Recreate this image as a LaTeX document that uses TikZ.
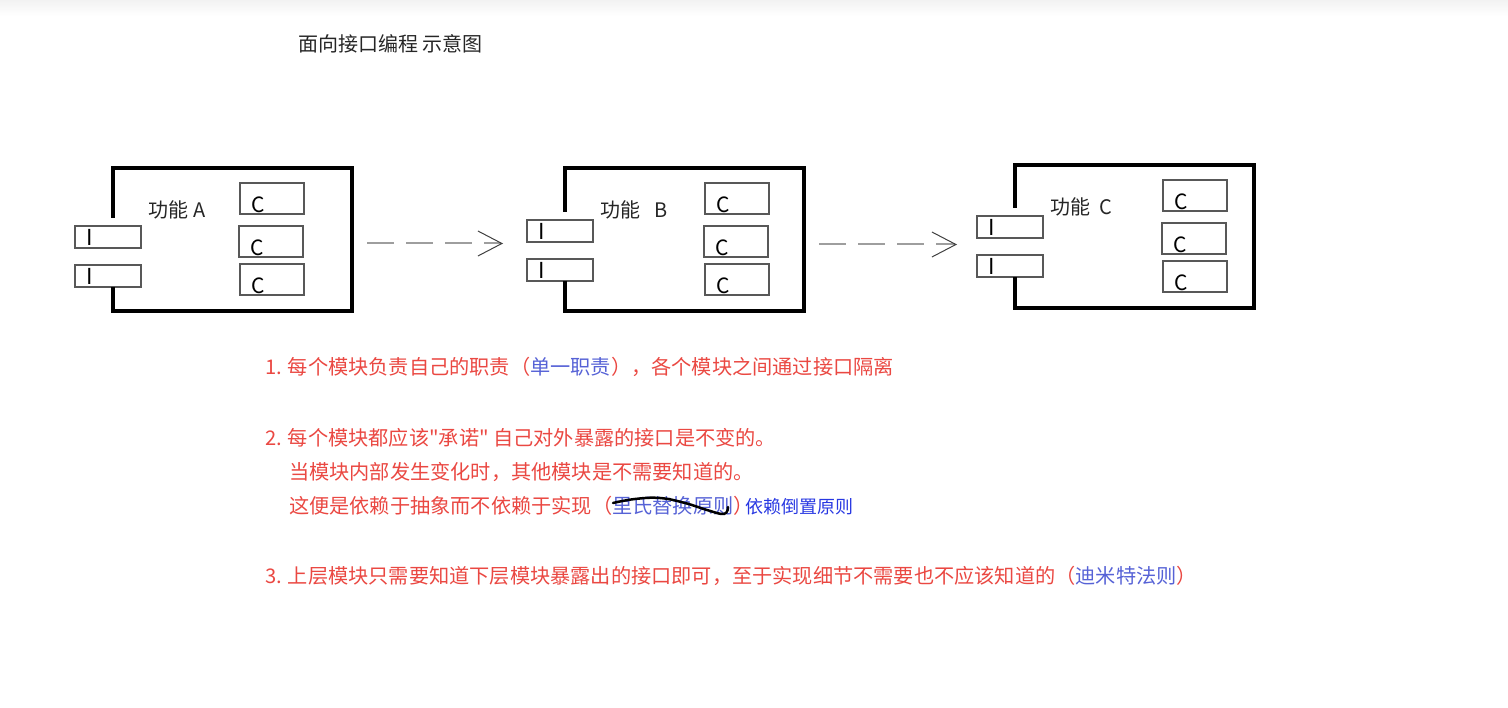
\documentclass[tikz,border=0pt]{standalone}
\usepackage{fontspec}
\setmainfont{Noto Sans CJK SC}[Ligatures=TeXOff]
\usetikzlibrary{positioning,arrows.meta,calc}
\definecolor{notered}{RGB}{234,72,66}
\definecolor{noteblue}{RGB}{86,98,214}
\definecolor{linkblue}{RGB}{40,56,226}
\definecolor{boxgray}{RGB}{88,88,88}

\begin{document}
\begin{tikzpicture}[
  x=1pt, y=-1pt,
  every node/.style={inner sep=0pt, outer sep=0pt},
  modbox/.style ={minimum width=239pt, minimum height=143pt, anchor=north west},
  modline/.style={line width=4pt, line join=miter},
  iface/.style  ={draw=boxgray, fill=white, line width=1.3pt, anchor=north west,
                  minimum width=66pt, minimum height=22pt,
                  label={[anchor=base west, xshift=11pt, yshift=2pt, font=\fontsize{22}{24}\selectfont]south west:I}},
  impl/.style   ={draw=boxgray, line width=1.3pt, anchor=north east,
                  minimum width=64pt, minimum height=31pt,
                  label={[anchor=base west, xshift=11pt, yshift=1pt, font=\fontsize{21}{23}\selectfont]south west:C}},
  modlabel/.style={anchor=west, font=\fontsize{20}{24}\selectfont, text=black!85},
  note/.style   ={anchor=west, font=\fontsize{20.2}{24}\selectfont, text=notered},
  dep/.style    ={draw=black!38, line width=2pt, dash pattern=on 27pt off 12pt,
                  -{Straight Barb[length=24pt, width=25pt, line width=1pt, color=black!75]}}
]
\useasboundingbox (0,0) rectangle (1508,708);
\shade[top color=black!5, bottom color=white] (0,0) rectangle (1508,16);

% --- title ---
\node[modlabel] (title) at (298,44) {面向接口编程 示意图};

% --- three modules: outer frame, interfaces (I), implementations (C) ---
\foreach \m/\x/\y/\lbl/\io/\cr in {A/113/168/{功能\hspace{5pt}A}/58/191,
                                    B/565/168/{功能\hspace{14pt}B}/52/204,
                                    C/1015/165/{功能\hspace{9pt}C}/51/212} {
  \node[modbox] (mod\m) at (\x,\y) {};
  \node[iface] (if\m1) at ($(mod\m.north west)+(-38,\io)$) {};
  \node[iface] (if\m2) at ($(mod\m.north west)+(-38,\io+39)$) {};
  \draw[modline] ($(if\m1.north -| mod\m.west)+(0,-8)$) |- (mod\m.north east)
                 |- (mod\m.south west) -- (if\m2.south -| mod\m.west);
  \node[impl] (impl\m1) at ($(mod\m.north west)+(\cr,15)$) {};
  \node[impl] (impl\m2) at ($(mod\m.north west)+(\cr-1,58)$) {};
  \node[impl] (impl\m3) at ($(mod\m.north west)+(\cr,96)$) {};
  \node[modlabel] (lbl\m) at ($(mod\m.north west)+(35,42)$) {\lbl};
}

% --- dependencies between modules ---
\draw[dep] ($(modA.east)+(15,4)$) -- ($(modA.east -| ifB1.west)+(-24,4)$);
\draw[dep] ($(modB.east)+(15,5)$) -- ($(modB.east -| ifC1.west)+(-20,5)$);

% --- notes ---
\node[note] (pt1)  at (265,367) {1. 每个模块负责自己的职责（\textcolor{noteblue}{单一职责}），各个模块之间通过接口隔离};
\node[note] (pt2)  at (265,438) {2. 每个模块都应该"承诺" 自己对外暴露的接口是不变的。};
\node[note] (pt2b) at (289,472) {当模块内部发生变化时，其他模块是不需要知道的。};
\node[note] (pt2c) at (289,506) {这便是依赖于抽象而不依赖于实现（\textcolor{noteblue}{里氏替换原则}）\hspace{-8pt}\textcolor{linkblue}{\fontsize{18}{20}\selectfont 依赖倒置原则}};
\node[note] (pt3)  at (265,576) {3. 上层模块只需要知道下层模块暴露出的接口即可，至于实现细节不需要也不应该知道的（\textcolor{noteblue}{迪米特法则}）};

% hand-drawn strike over the crossed-out principle
\draw[line width=2.5pt, line cap=round, line join=round]
  plot[smooth, tension=0.7] coordinates {(613,503) (635,499) (660,498) (685,503) (707,510) (724,514) (728,507)};
\end{tikzpicture}
\end{document}
